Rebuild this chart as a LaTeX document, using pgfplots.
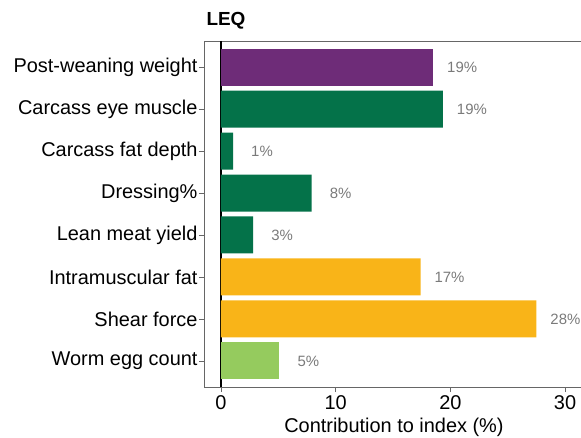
\documentclass[border=0pt]{standalone}
\usepackage{pgfplots}
\pgfplotsset{compat=1.18}
\usepackage{fontspec}
\setmainfont{Liberation Sans}
\definecolor{cpurple}{HTML}{6E2C78}
\definecolor{cgreen}{HTML}{047249}
\definecolor{corange}{HTML}{F9B418}
\definecolor{clight}{HTML}{95CB5E}
\definecolor{cframe}{HTML}{666666}
\definecolor{clabel}{HTML}{7A7A7A}
\begin{document}
\begin{tikzpicture}
\begin{axis}[
    at={(204bp,51bp)}, anchor=south west,
    scale only axis,
    width=380bp, height=346bp,
    xbar, bar shift=0pt, bar width=37bp,
    xmin=-1.48, xmax=31.65,
    ymin=-0.62, ymax=7.62,
    y dir=reverse,
    ytick={0,...,7},
    yticklabels={Post-weaning weight,Carcass eye muscle,Carcass fat depth,Dressing\%,Lean meat yield,Intramuscular fat,Shear force,Worm egg count},
    xtick={0,10,20,30},
    extra x ticks={0},
    extra x tick labels={},
    extra x tick style={grid=major, major grid style={black, line width=1.2pt}, major tick length=0pt},
    tick align=outside, major tick length=5bp,
    xtick pos=bottom, ytick pos=left,
    axis line style={cframe, line width=0.8pt},
    every tick/.style={cframe, line width=0.8pt},
    tick label style={font=\fontsize{20}{22}\selectfont, text=black},
    yticklabel style={xshift=2bp},
    /pgf/number format/assume math mode=true,
    xlabel={Contribution to index (\%)},
    xlabel style={font=\fontsize{20}{22}\selectfont, yshift=3bp},
    point meta=explicit symbolic,
    nodes near coords={\pgfplotspointmeta},
    every node near coord/.append style={font=\fontsize{15}{17}\selectfont, text=clabel, anchor=center, xshift=29bp},
    title={\textbf{LEQ}},
    title style={font=\fontsize{19}{21}\selectfont, at={(0,1)}, anchor=south west, xshift=-1bp, yshift=2bp},
    clip=false,
]
\addplot[fill=cpurple, draw=none] coordinates {(18.5,0) [19\%]};
\addplot[fill=cgreen, draw=none] coordinates {(19.35,1) [19\%] (1.05,2) [1\%] (7.9,3) [8\%] (2.8,4) [3\%]};
\addplot[fill=corange, draw=none] coordinates {(17.4,5) [17\%] (27.5,6) [28\%]};
\addplot[fill=clight, draw=none] coordinates {(5.1,7) [5\%]};
\end{axis}
\pgfresetboundingbox
\useasboundingbox (0,0) rectangle (581bp,438bp);
\end{tikzpicture}
\end{document}
